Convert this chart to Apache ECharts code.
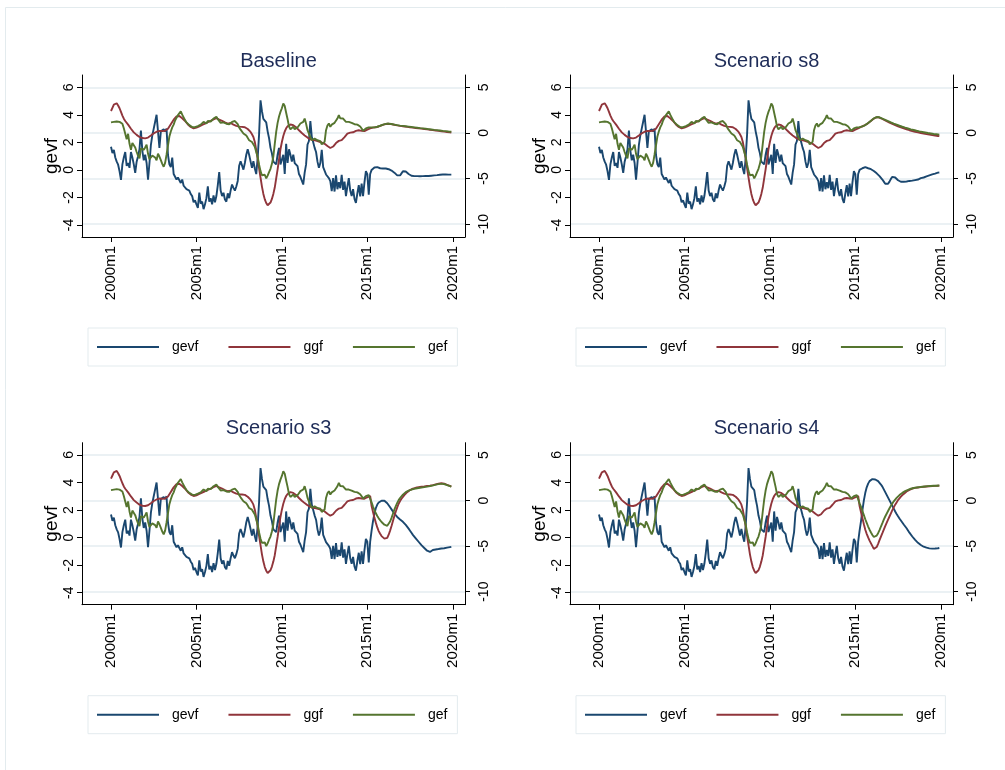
<!DOCTYPE html>
<html><head><meta charset="utf-8">
<script src="https://cdn.jsdelivr.net/npm/echarts@6/dist/echarts.min.js"></script>
<style>html,body{margin:0;padding:0;background:#fff}#c{width:1005px;height:770px}</style>
</head><body><div id="c"></div>
<script>
// ---- tick labels ----
const xTickValues = [0, 60, 120, 180, 240];           // month index from 2000m1
const xTickLabels = ['2000m1', '2005m1', '2010m1', '2015m1', '2020m1'];
const leftTicks = [-4, -2, 0, 2, 4, 6];
const rightTicks = [-10, -5, 0, 5];
const seriesNames = ['gevf', 'ggf', 'gef'];
const panelTitles = ['Baseline', 'Scenario s8', 'Scenario s3', 'Scenario s4'];

// ---- shared history, 2000m1 .. 2015m3 ----
const gevfHist = [
  1.68, 1.22, 1.45, 0.9, 0.6, 0.38, -0.1, -0.72, 0.4, 0.9, 1.3, 0.3,
  0.5, 0.15, 1.3, 0.9, 0.4, -0.22, 0.6, 1.0, 1.5, 2.85, 1.4, 0.7,
  1.1, 0.5, -0.7, 0.5, 1.8, 2.5, 3.0, 3.5, 4.0, 2.8, 1.6, 2.8,
  2.8, 2.95, 2.8, 3.0, 1.1, 0.4, 0.2, 0.9, -0.3, -0.5, -0.7, -0.55,
  -0.6, -0.95, -0.7, -1.15, -1.2, -1.4, -1.35, -1.5, -1.75, -1.9, -2.35, -2.2,
  -2.5, -2.75, -1.65, -2.45, -2.3, -2.85, -2.5, -2.05, -1.2, -2.3, -2.05, -2.5,
  -1.85, -2.35, -1.9, -1.1, -0.15, -1.5, -1.9, -1.66, -2.15, -2.3, -1.7, -2.05,
  -1.5, -1.06, -1.3, -1.5, -1.2, -0.8, 0.3, 0.63, 0.7, 0.02, 0.5, 1.1,
  1.5, 1.1, 1.2, 0.15, 0.63, 0.1, -0.3, 0.87, 2.6, 5.05, 4.26, 3.7,
  3.6, 3.45, 2.8, 2.3, 1.6, 1.2, 0.6, 0.5, 0.4, 1.1, 1.6, 0.4,
  0.3, 1.1, -0.3, 1.9, 0.5, 1.5, 1.1, 0.6, 1.1, 0.5, 0.6, 0.27,
  -0.3, -0.5, -0.6, -1.06, -0.2, 0.4, 1.84, 2.1, 3.55, 2.4, 2.0, 1.6,
  1.3, 0.6, 0.15, 0.5, 1.45, 0.2, 0.1, -0.33, -0.2, -0.6, -0.81, -1.54,
  -0.6, -1.57, -0.4, -1.4, -0.9, -1.33, -0.35, -1.45, -0.85, -1.9, -1.2, -0.6,
  -1.5, -1.9, -1.4, -2.1, -2.4, -1.7, -1.1, -1.93, -1.0, -1.9, -0.9, -0.09,
  -0.3, -1.8, -0.3
];
const ggfHist = [
  2.4, 2.75, 3.1, 3.3, 3.25, 3.0, 2.7, 2.3, 1.9, 1.55, 1.3, 1.1,
  0.9, 0.7, 0.45, 0.25, 0.05, -0.1, -0.22, -0.35, -0.45, -0.52, -0.57, -0.6,
  -0.6, -0.58, -0.52, -0.42, -0.3, -0.15, -0.05, 0.05, 0.12, 0.18, 0.22, 0.22,
  0.2, 0.2, 0.22, 0.3, 0.45, 0.7, 0.95, 1.2, 1.45, 1.65, 1.8, 1.88,
  1.85, 1.75, 1.6, 1.45, 1.3, 1.1, 0.92, 0.78, 0.65, 0.55, 0.5, 0.52,
  0.58, 0.65, 0.72, 0.8, 0.88, 0.95, 1.02, 1.1, 1.18, 1.25, 1.32, 1.4,
  1.48, 1.56, 1.62, 1.55, 1.45, 1.38, 1.32, 1.25, 1.15, 1.05, 1.02, 1.05,
  1.08, 1.0, 0.9, 0.82, 0.76, 0.7, 0.68, 0.66, 0.66, 0.65, 0.62, 0.55,
  0.42, 0.28, 0.1, -0.15, -0.45, -1.0, -1.9, -2.8, -3.9, -4.9, -5.9, -6.7,
  -7.3, -7.7, -7.95, -7.9, -7.65, -7.25, -6.7, -6.0, -5.0, -4.0, -2.9, -1.8,
  -1.0, -0.35, 0.15, 0.5, 0.72, 0.85, 0.92, 0.9, 0.84, 0.75, 0.62, 0.45,
  0.28, 0.12, -0.02, -0.14, -0.28, -0.4, -0.52, -0.62, -0.7, -0.76, -0.79, -0.82,
  -0.85, -0.9, -0.95, -1.0, -1.06, -1.12, -1.2, -1.3, -1.45, -1.58, -1.66, -1.64,
  -1.5, -1.32, -1.12, -0.96, -0.88, -0.84, -0.8, -0.66, -0.46, -0.26, -0.08, 0.05,
  0.02, -0.04, 0.06, 0.16, 0.22, 0.26, 0.28, 0.26, 0.22, 0.18, 0.2, 0.28,
  0.36, 0.44, 0.5
];
const gefHist = [
  1.15, 1.35, 1.2, 1.05, 1.25, 1.1, 1.2, 1.25, 1.0, 0.5, -0.1, -0.7,
  -0.1, -1.2, -1.87, -1.1, -1.3, -1.6, -2.1, -2.5, -2.8, -1.7, -1.5, -1.87,
  -1.6, -1.3, -2.3, -2.9, -2.75, -2.5, -2.5, -2.7, -3.0, -2.3, -2.6, -3.0,
  -3.4, -3.72, -3.3, -2.4, -1.4, -0.4, 0.15, 0.6, 0.9, 1.35, 1.5, 1.95,
  2.1, 2.35, 2.0, 1.7, 1.4, 1.15, 1.0, 0.85, 0.75, 0.65, 0.6, 0.62,
  0.7, 0.75, 0.8, 0.9, 1.1, 1.21, 1.1, 1.03, 1.3, 1.39, 1.25, 1.4,
  1.57, 1.7, 1.76, 1.5, 1.39, 1.1, 1.03, 1.15, 1.21, 1.0, 0.84, 0.95,
  1.03, 1.2, 1.39, 1.3, 1.21, 0.95, 0.6, 0.35, 0.29, -0.07, -0.15, -0.3,
  -0.55, -0.81, -0.95, -1.0, -1.05, -1.54, -2.09, -2.64, -3.5, -4.2, -4.65, -4.5,
  -4.6, -5.0, -4.7, -4.3, -3.95, -3.4, -2.6, -1.2, 0.1, 1.1, 1.8, 2.3,
  2.7, 3.22, 2.95, 2.2, 1.5, 0.7, 0.4, 0.3, 0.66, 0.4, 0.29, 0.59,
  0.8, 1.03, 1.1, 1.21, 1.57, 1.0, 0.29, -0.1, -0.44, -0.81, -0.7, -0.62,
  -0.7, -0.81, -0.81, -0.9, -1.25, -1.1, -0.99, 0.29, 0.8, 1.03, 0.66, 0.9,
  1.03, 1.1, 1.2, 1.57, 1.94, 1.6, 1.39, 1.57, 1.4, 1.21, 1.3, 1.21,
  1.15, 1.1, 1.03, 0.95, 0.84, 0.9, 1.03, 0.7, 0.48, 0.22, 0.3, 0.48,
  0.55, 0.6, 0.6
];

// ---- scenario paths, 2015m4 .. 2019m12 ----
const baseGevf = [
  0.0, 0.1, 0.18, 0.25, 0.2, 0.15, 0.12, 0.15, 0.1,
  0.12, 0.1, 0.08, 0.05, 0.0, -0.05, -0.12, -0.2, -0.3, -0.4, -0.48, -0.4,
  -0.25, -0.1, -0.08, -0.12, -0.2, -0.3, -0.38, -0.42, -0.44, -0.45, -0.45, -0.45,
  -0.45, -0.46, -0.45, -0.45, -0.45, -0.44, -0.44, -0.44, -0.43, -0.42, -0.41, -0.4,
  -0.39, -0.38, -0.36, -0.35, -0.34, -0.33, -0.33, -0.33, -0.34, -0.34, -0.34, -0.34
];
const baseGgf = [
  0.55, 0.58, 0.6, 0.62, 0.65, 0.7, 0.76, 0.82, 0.88,
  0.93, 0.97, 1.0, 1.0, 0.98, 0.95, 0.92, 0.88, 0.85, 0.82, 0.79, 0.76,
  0.74, 0.72, 0.7, 0.68, 0.66, 0.64, 0.62, 0.6, 0.58, 0.56, 0.54, 0.52,
  0.5, 0.48, 0.46, 0.44, 0.42, 0.4, 0.38, 0.36, 0.34, 0.32, 0.3, 0.28,
  0.26, 0.24, 0.22, 0.2, 0.18, 0.16, 0.14, 0.12, 0.1, 0.08, 0.06, 0.04
];
const baseGef = [
  0.6, 0.58, 0.6, 0.63, 0.67, 0.72, 0.78, 0.84, 0.9,
  0.95, 0.99, 1.02, 1.02, 1.0, 0.97, 0.94, 0.91, 0.88, 0.85, 0.82, 0.8,
  0.78, 0.76, 0.74, 0.72, 0.7, 0.68, 0.66, 0.64, 0.62, 0.6, 0.58, 0.56,
  0.54, 0.52, 0.5, 0.49, 0.47, 0.45, 0.43, 0.41, 0.39, 0.37, 0.35, 0.33,
  0.31, 0.3, 0.28, 0.26, 0.24, 0.22, 0.21, 0.19, 0.17, 0.15, 0.14, 0.12
];
const s8Gevf = [
  0.0, 0.05, 0.12, 0.18, 0.2, 0.15, 0.12, 0.1, 0.05,
  0.0, -0.08, -0.15, -0.25, -0.35, -0.45, -0.55, -0.7, -0.85, -1.0, -1.1, -1.0,
  -0.85, -0.65, -0.5, -0.48, -0.55, -0.65, -0.75, -0.82, -0.86, -0.87, -0.86, -0.85,
  -0.84, -0.82, -0.8, -0.79, -0.78, -0.75, -0.74, -0.72, -0.7, -0.66, -0.6, -0.58,
  -0.55, -0.5, -0.47, -0.45, -0.4, -0.38, -0.33, -0.3, -0.27, -0.24, -0.2, -0.19
];
const s8Ggf = [
  0.6, 0.65, 0.72, 0.78, 0.84, 0.95, 1.08, 1.2, 1.32,
  1.45, 1.57, 1.66, 1.72, 1.73, 1.68, 1.6, 1.52, 1.44, 1.36, 1.28, 1.2,
  1.12, 1.05, 0.98, 0.92, 0.85, 0.78, 0.72, 0.66, 0.6, 0.54, 0.49, 0.44,
  0.39, 0.34, 0.29, 0.25, 0.2, 0.16, 0.12, 0.08, 0.05, 0.01, -0.02, -0.05,
  -0.08, -0.11, -0.14, -0.17, -0.2, -0.22, -0.25, -0.27, -0.3, -0.32, -0.34, -0.36
];
const s8Gef = [
  0.62, 0.66, 0.72, 0.78, 0.85, 0.96, 1.09, 1.22, 1.34,
  1.47, 1.59, 1.68, 1.74, 1.75, 1.71, 1.64, 1.57, 1.5, 1.43, 1.36, 1.29,
  1.22, 1.15, 1.08, 1.02, 0.96, 0.9, 0.84, 0.78, 0.72, 0.67, 0.62, 0.57,
  0.52, 0.48, 0.43, 0.39, 0.35, 0.31, 0.27, 0.23, 0.2, 0.16, 0.13, 0.1,
  0.07, 0.04, 0.01, -0.02, -0.05, -0.07, -0.1, -0.12, -0.14, -0.16, -0.18, -0.2
];
const s3Gevf = [
  0.5, 1.2, 1.75, 2.15, 2.4, 2.55, 2.63, 2.68, 2.7,
  2.68, 2.62, 2.5, 2.35, 2.2, 2.05, 1.9, 1.75, 1.62, 1.5, 1.4, 1.32,
  1.25, 1.15, 1.05, 0.92, 0.8, 0.65, 0.5, 0.35, 0.2, 0.08, -0.05, -0.18,
  -0.3, -0.4, -0.55, -0.65, -0.75, -0.85, -0.95, -1.02, -1.04, -0.98, -0.9, -0.88,
  -0.86, -0.85, -0.83, -0.8, -0.79, -0.78, -0.77, -0.75, -0.73, -0.71, -0.69, -0.67
];
const s3Ggf = [
  -0.6, -1.25, -1.9, -2.45, -2.95, -3.35, -3.65, -3.9, -4.07,
  -4.18, -4.23, -4.1, -3.75, -3.3, -2.8, -2.25, -1.7, -1.2, -0.75, -0.35, -0.05,
  0.2, 0.4, 0.6, 0.78, 0.92, 1.05, 1.15, 1.24, 1.3, 1.35, 1.4, 1.43,
  1.46, 1.49, 1.51, 1.53, 1.55, 1.57, 1.6, 1.62, 1.64, 1.67, 1.7, 1.73,
  1.77, 1.8, 1.84, 1.88, 1.9, 1.88, 1.85, 1.8, 1.73, 1.66, 1.6, 1.53
];
const s3Gef = [
  -0.2, -0.65, -1.05, -1.4, -1.7, -1.95, -2.15, -2.35, -2.5,
  -2.65, -2.75, -2.77, -2.6, -2.3, -1.9, -1.45, -1.0, -0.6, -0.25, 0.05, 0.28,
  0.48, 0.65, 0.8, 0.93, 1.03, 1.1, 1.16, 1.21, 1.25, 1.29, 1.32, 1.35,
  1.38, 1.4, 1.43, 1.45, 1.48, 1.5, 1.53, 1.55, 1.58, 1.62, 1.66, 1.7,
  1.74, 1.77, 1.8, 1.83, 1.84, 1.83, 1.8, 1.76, 1.7, 1.64, 1.58, 1.53
];
const s4Gevf = [
  0.5, 1.2, 2.0, 2.7, 3.25, 3.65, 3.92, 4.1, 4.2,
  4.25, 4.25, 4.22, 4.17, 4.1, 3.98, 3.85, 3.7, 3.5, 3.3, 3.1, 2.9,
  2.7, 2.5, 2.3, 2.1, 1.9, 1.72, 1.55, 1.39, 1.25, 1.1, 0.95, 0.82,
  0.68, 0.52, 0.36, 0.22, 0.08, -0.05, -0.17, -0.28, -0.38, -0.46, -0.54, -0.6,
  -0.66, -0.7, -0.73, -0.76, -0.78, -0.8, -0.8, -0.8, -0.79, -0.78, -0.77, -0.75
];
const s4Ggf = [
  -0.6, -1.3, -1.95, -2.6, -3.2, -3.65, -4.05, -4.4, -4.7,
  -5.0, -5.3, -5.4, -5.1, -4.75, -4.35, -3.95, -3.58, -3.2, -2.8, -2.45, -2.1,
  -1.75, -1.4, -1.05, -0.75, -0.45, -0.2, 0.05, 0.26, 0.43, 0.58, 0.73, 0.87,
  0.99, 1.08, 1.17, 1.25, 1.32, 1.36, 1.39, 1.41, 1.43, 1.45, 1.47, 1.49,
  1.51, 1.53, 1.54, 1.56, 1.57, 1.58, 1.59, 1.6, 1.61, 1.62, 1.63, 1.64
];
const s4Gef = [
  -0.3, -0.7, -1.15, -1.6, -2.05, -2.45, -2.85, -3.2, -3.5,
  -3.78, -4.0, -4.05, -3.85, -3.58, -3.25, -2.85, -2.48, -2.1, -1.75, -1.45, -1.15,
  -0.85, -0.57, -0.32, -0.08, 0.12, 0.3, 0.46, 0.6, 0.72, 0.84, 0.95, 1.03,
  1.1, 1.17, 1.24, 1.3, 1.35, 1.38, 1.41, 1.44, 1.46, 1.48, 1.5, 1.52,
  1.54, 1.55, 1.57, 1.58, 1.59, 1.6, 1.61, 1.62, 1.63, 1.63, 1.64, 1.65
];

const scenarioPaths = [
  [baseGevf, baseGgf, baseGef],
  [s8Gevf, s8Ggf, s8Gef],
  [s3Gevf, s3Ggf, s3Gef],
  [s4Gevf, s4Ggf, s4Gef]
];
const histories = [gevfHist, ggfHist, gefHist];

// ---- presentation ----
const FONT = "'Liberation Sans', Arial, sans-serif";
const colors = ['#1a476f', '#90353b', '#55752f'];
const grids = [
  {left: 82, top: 75}, {left: 570, top: 75},
  {left: 82, top: 442.7}, {left: 570, top: 442.7}
];
const GW = 383, GH = 162;

const option = {
  animation: false,
  backgroundColor: '#ffffff',
  graphic: [{
    type: 'rect', silent: true,
    shape: {x: 5.5, y: 7.5, width: 1200, height: 1000},
    style: {fill: 'none', stroke: '#e3ebee', lineWidth: 1}
  }],
  title: [], grid: [], xAxis: [], yAxis: [], legend: [], series: []
};

grids.forEach((g, i) => {
  option.grid.push({left: g.left, top: g.top, width: GW, height: GH, containLabel: false});
  option.title.push({
    text: panelTitles[i], left: g.left + GW / 2, top: g.top - 29, textAlign: 'center',
    textStyle: {fontFamily: FONT, fontSize: 20, fontWeight: 'normal', color: '#1e2c58'}
  });
  option.xAxis.push({
    type: 'value', gridIndex: i, min: -20.37, max: 248.6,
    axisLine: {show: true, onZero: false, lineStyle: {color: '#000', width: 1}},
    axisTick: {show: true, length: 5, customValues: xTickValues, lineStyle: {color: '#000'}},
    axisLabel: {
      customValues: xTickValues, rotate: 90, margin: 9, fontSize: 15, color: '#000', fontFamily: FONT,
      formatter: v => xTickLabels[xTickValues.indexOf(v)]
    },
    splitLine: {show: false}
  });
  option.yAxis.push({
    type: 'value', gridIndex: i, position: 'left', min: -4.87, max: 6.89,
    name: 'gevf', nameLocation: 'middle', nameGap: 14, nameRotate: 90,
    nameTextStyle: {fontFamily: "'Liberation Sans Narrow', 'Arial Narrow', " + FONT, fontSize: 19, color: '#000'},
    axisLine: {show: true, onZero: false, lineStyle: {color: '#000', width: 1}},
    axisTick: {show: true, length: 5, customValues: leftTicks, lineStyle: {color: '#000'}},
    axisLabel: {customValues: leftTicks, rotate: 90, margin: 6, fontSize: 14, color: '#000', fontFamily: FONT},
    splitLine: {show: false}
  });
  option.yAxis.push({
    type: 'value', gridIndex: i, position: 'right', min: -11.43, max: 6.35,
    axisLine: {show: true, onZero: false, lineStyle: {color: '#000', width: 1}},
    axisTick: {show: true, length: 5, customValues: rightTicks, lineStyle: {color: '#000'}},
    axisLabel: {customValues: rightTicks, rotate: 90, margin: 12, fontSize: 14, color: '#000', fontFamily: FONT},
    splitLine: {show: true, lineStyle: {color: '#e4edf0', width: 1.5}}
  });
  option.legend.push({
    data: seriesNames, left: g.left + 6, top: g.top + 253,
    orient: 'horizontal', icon: 'rect', itemWidth: 62, itemHeight: 2, itemGap: 30,
    padding: [12, 10, 12, 9], borderColor: '#e3ebee', borderWidth: 1, borderRadius: 0,
    textStyle: {fontFamily: FONT, fontSize: 14, color: '#000', padding: [0, 0, 0, 8]},
    selectedMode: false
  });
  seriesNames.forEach((name, k) => {
    const vals = histories[k].concat(scenarioPaths[i][k]);
    option.series.push({
      name: name, type: 'line', xAxisIndex: i, yAxisIndex: 2 * i + (k === 0 ? 0 : 1),
      data: vals.map((v, m) => [m, v]),
      showSymbol: false, symbol: 'none', smooth: false,
      lineStyle: {color: colors[k], width: 1.9}, itemStyle: {color: colors[k]},
      z: 3 + k, silent: true
    });
  });
});

const chart = echarts.init(document.getElementById('c'), null, {renderer: 'canvas'});
chart.setOption(option);
</script>
</body></html>
